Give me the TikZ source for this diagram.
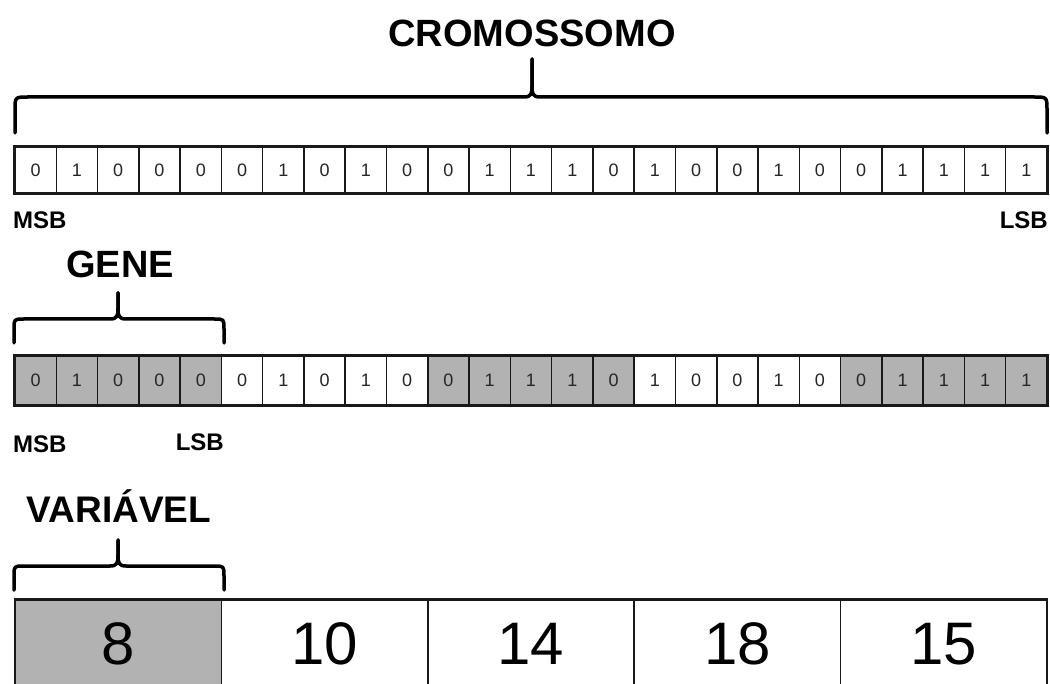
\documentclass[tikz,border=0pt]{standalone}
\usepackage{fontspec}
\setmainfont{Liberation Sans}
\definecolor{cellgray}{RGB}{178,178,178}
\definecolor{lineblk}{RGB}{25,25,25}
\newcommand\mybrace[7]{%
  \draw[bracestyle] (#1,#5) -- (#1,{#4+#7}) .. controls (#1,#4) .. ({#1+#7},#4)
    -- ({#3-8},#4) .. controls ({#3-1},#4) and (#3,{#4-3}) .. (#3,{#4-11}) -- (#3,#6);
  \draw[bracestyle] (#2,#5) -- (#2,{#4+#7}) .. controls (#2,#4) .. ({#2-#7},#4)
    -- ({#3+8},#4) .. controls ({#3+1},#4) and (#3,{#4-3}) .. (#3,{#4-11}) -- (#3,#6);
}
\begin{document}
\begin{tikzpicture}[x=1pt,y=-1pt,
  bracestyle/.style={line width=3.5pt, line cap=round, line join=round, black},
  bit/.style={draw=lineblk, line width=1.5pt, minimum width=41.28pt, inner sep=0pt,
    font=\fontsize{18}{20}\selectfont, text=black!85},
  bigcell/.style={draw=lineblk, line width=1.5pt, minimum width=206.4pt, minimum height=88pt,
    inner sep=0pt, font=\fontsize{60}{66}\selectfont},
  title/.style={font=\bfseries, inner sep=0pt},
  endlabel/.style={font=\fontsize{24}{26}\selectfont\bfseries, inner sep=0pt}]
\useasboundingbox (0,0) rectangle (1050,684);

% titles
\node[title, anchor=base] (tcrom) at (532,47) {\fontsize{38}{40}\selectfont CROMOSSOMO};
\node[title, anchor=base] (tgene) at (120,278) {\fontsize{38}{40}\selectfont GENE};
\node[title, anchor=base] (tvar) at (119,522) {\fontsize{37}{39}\selectfont VARIÁVEL};

% braces
\mybrace{15}{1047}{532}{97}{133}{59}{13}
\mybrace{14}{224}{118}{319}{343}{293}{10}
\mybrace{14}{224}{118}{566}{590}{540}{10}

% row 1
\foreach \b [count=\i] in {0,1,0,0,0,0,1,0,1,0,0,1,1,1,0,1,0,0,1,0,0,1,1,1,1}
  \node[bit, minimum height=46pt, fill=white] (a\i) at ({15+41.28*(\i-0.5)},170) {\b};
\draw[lineblk, line width=3pt] (a1.north west) rectangle (a25.south east);

% row 2
\foreach \b/\f [count=\i] in {0/cellgray,1/cellgray,0/cellgray,0/cellgray,0/cellgray,
  0/white,1/white,0/white,1/white,0/white,
  0/cellgray,1/cellgray,1/cellgray,1/cellgray,0/cellgray,
  1/white,0/white,0/white,1/white,0/white,
  0/cellgray,1/cellgray,1/cellgray,1/cellgray,1/cellgray}
  \node[bit, minimum height=49pt, fill=\f] (b\i) at ({15+41.28*(\i-0.5)},380.5) {\b};
\draw[lineblk, line width=3pt] (b1.north west) rectangle (b25.south east);

% labels
\node[endlabel, anchor=base west] (msb1) at (13,229) {MSB};
\node[endlabel, anchor=base east] (lsb1) at (1048,229) {LSB};
\node[endlabel, anchor=base west] (msb2) at (13,453) {MSB};
\node[endlabel, anchor=base east] (lsb2) at (224,450) {LSB};

% row 3
\foreach \v/\f [count=\i] in {8/cellgray,10/white,14/white,18/white,15/white}
  \node[bigcell, fill=\f] (c\i) at ({15+206.4*(\i-0.5)},644) {\v};
\draw[lineblk, line width=3pt] (c1.north west) -- (c5.north east);
\end{tikzpicture}
\end{document}
